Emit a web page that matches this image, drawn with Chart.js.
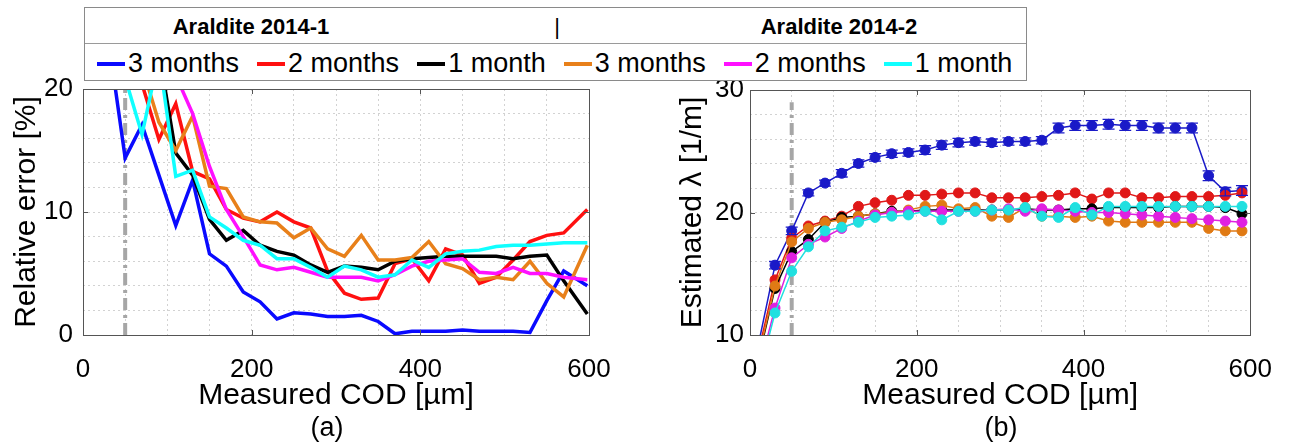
<!DOCTYPE html>
<html>
<head>
<meta charset="utf-8">
<script src="https://cdn.jsdelivr.net/npm/chart.js@4.4.0/dist/chart.umd.min.js"></script>
<style>
  body { margin: 0; background: #fff; width: 1291px; height: 446px; overflow: hidden; position: relative;
         font-family: "Liberation Sans", Arial, Helvetica, sans-serif; }
  #wrapA { position: absolute; left: 0; top: 0; width: 640px; height: 446px; }
  #wrapB { position: absolute; left: 640px; top: 0; width: 651px; height: 446px; }
  .cap { position: absolute; top: 412px; font-size: 27px; transform: translateX(-50%); color: #000; }
  #legend { position: absolute; left: 84px; top: 7px; width: 941px; height: 72px; border: 1px solid #8a8a8a;
            background: #fff; z-index: 2; }
  #legend .head { position: absolute; left: 0; right: 0; top: 0; height: 35px; border-bottom: 1px solid #9a9a9a; }
  #legend .head span { position: absolute; top: 6px; font-size: 22px; font-weight: bold; transform: translateX(-50%); }
  #legend .row { position: absolute; left: 12px; top: 40px; display: flex; align-items: center; gap: 18px; }
  #legend .item { display: flex; align-items: center; font-size: 27px; }
  #legend .item i { display: inline-block; width: 28px; height: 4px; margin-right: 3px; }
</style>
</head>
<body>
<div id="legend">
  <div class="head" id="legendHead"></div>
  <div class="row" id="legendRow"></div>
</div>
<div id="wrapA"><canvas id="chartA" width="640" height="446"></canvas></div>
<div id="wrapB"><canvas id="chartB" width="651" height="446"></canvas></div>
<div class="cap" style="left:327px">(a)</div>
<div class="cap" style="left:1001px">(b)</div>

<script>
// measured COD positions [µm]
const codLeft = [10, 30, 50, 70, 90, 110, 130, 150, 170, 190, 210, 230, 250, 270, 290, 310, 330, 350, 370, 390,
                 410, 430, 450, 470, 490, 510, 530, 550, 570, 598];
const codRight = [10, 30, 50, 70, 90, 110, 130, 150, 170, 190, 210, 230, 250, 270, 290, 310, 330, 350, 370, 390,
                  410, 430, 450, 470, 490, 510, 530, 550, 570, 590];

const groupNames = ['Araldite 2014-1', 'Araldite 2014-2'];
const seriesNames = ['3 months', '2 months', '1 month', '3 months', '2 months', '1 month'];

// (a) relative error [%]
const err14_1_3m = [32, 24.1, 14.4, 17.1, 13.0, 8.9, 12.6, 6.6, 5.6, 3.5, 2.7, 1.3, 1.8, 1.7, 1.5, 1.5, 1.6, 1.1, 0.1, 0.3,
                    0.3, 0.3, 0.4, 0.3, 0.3, 0.3, 0.2, 2.8, 5.2, 4.0];
const err14_1_2m = [40, 32, 25, 20.4, 15.9, 18.8, 13.3, 12.7, 10.2, 9.5, 9.2, 10.0, 9.2, 8.7, 5.2, 3.4, 2.9, 3.0, 5.8, 6.2,
                    4.4, 7.0, 6.5, 4.2, 4.7, 6.1, 7.6, 8.1, 8.3, 10.2];
const err14_1_1m = [45, 38, 32, 27, 23, 14.8, 13.0, 9.4, 7.7, 8.5, 7.3, 6.8, 6.5, 5.7, 5.1, 5.6, 5.5, 5.3, 6.0, 6.2,
                    6.3, 6.4, 6.4, 6.4, 6.4, 6.2, 6.4, 6.5, 4.4, 1.7];
const err14_2_3m = [35, 30, 26, 21.8, 17.3, 15.0, 17.8, 12.1, 11.9, 9.6, 9.2, 9.1, 7.9, 8.7, 7.0, 6.4, 8.1, 6.1, 6.1, 6.3,
                    7.6, 5.8, 5.4, 4.5, 4.7, 4.5, 6.0, 4.2, 3.1, 7.3];
const err14_2_2m = [42, 38, 34, 30, 26, 21.1, 18.0, 13.7, 10.2, 8.0, 5.7, 5.3, 5.5, 5.1, 4.7, 4.7, 4.7, 4.4, 4.9, 5.6,
                    6.0, 6.1, 6.2, 5.1, 5.0, 5.5, 5.0, 5.0, 4.7, 4.5];
const err14_2_1m = [35, 28, 20.9, 16.3, 22.7, 12.9, 13.4, 9.6, 8.7, 7.7, 7.3, 6.2, 6.2, 5.5, 4.7, 5.6, 5.3, 4.7, 4.9, 6.1,
                    5.5, 6.6, 6.8, 6.9, 7.2, 7.3, 7.3, 7.4, 7.5, 7.5];

// (b) estimated lambda [1/m]
const lam14_1_3m = [9.2, 15.7, 18.5, 21.6, 22.4, 23.2, 24.0, 24.5, 24.8, 24.9, 25.1, 25.5, 25.7, 25.8, 25.7, 25.8, 25.8, 25.9, 26.9, 27.1,
                    27.1, 27.2, 27.1, 27.1, 26.9, 26.9, 26.9, 23.0, 21.7, 21.8];
const lam14_1_2m = [8.6, 14.5, 17.9, 18.9, 19.3, 19.7, 20.5, 20.8, 21.0, 21.4, 21.4, 21.5, 21.6, 21.6, 21.2, 21.2, 21.2, 21.3, 21.4, 21.6,
                    21.1, 21.6, 21.6, 21.2, 21.2, 21.3, 21.3, 21.3, 21.4, 21.6];
const lam14_1_1m = [8.0, 13.8, 16.8, 17.8, 19.2, 19.6, 19.7, 19.9, 20.1, 20.1, 20.2, 20.2, 20.2, 20.2, 20.2, 20.2, 20.3, 20.2, 20.2, 20.3,
                    20.3, 20.4, 20.4, 20.4, 20.4, 20.5, 20.5, 20.5, 20.4, 19.9];
const lam14_2_3m = [8.2, 14.0, 17.6, 18.7, 19.2, 19.4, 19.7, 19.9, 20.0, 20.2, 20.5, 20.6, 20.3, 20.4, 19.7, 19.6, 20.4, 19.7, 19.7, 19.6,
                    19.7, 19.3, 19.2, 19.2, 19.2, 19.2, 19.2, 18.7, 18.5, 18.5];
const lam14_2_2m = [7.0, 12.2, 16.3, 17.4, 18.0, 18.7, 19.3, 19.8, 20.0, 20.1, 20.1, 20.1, 20.1, 20.1, 20.2, 20.3, 20.1, 20.3, 20.2, 20.1,
                    20.0, 20.0, 19.9, 19.8, 19.7, 19.6, 19.5, 19.4, 19.3, 19.2];
const lam14_2_1m = [6.5, 11.8, 15.2, 17.2, 18.5, 18.8, 19.2, 19.6, 19.7, 19.8, 20.1, 19.4, 20.1, 20.1, 20.2, 20.2, 20.4, 19.7, 19.6, 20.4,
                    19.8, 20.5, 20.5, 20.5, 20.5, 20.5, 20.5, 20.5, 20.5, 20.5];
// half-height of the error bars on the 3 months / 2014-1 series
const lam14_1_3m_err = [0.3, 0.3, 0.3, 0.25, 0.25, 0.3, 0.3, 0.3, 0.3, 0.3, 0.35, 0.35, 0.35, 0.3, 0.3, 0.3, 0.3, 0.3, 0.4, 0.4,
                        0.4, 0.4, 0.4, 0.4, 0.4, 0.4, 0.4, 0.4, 0.35, 0.4];

// vertical dash-dot marker at COD = 50 µm
const markerCod = 50;
const markerErrRange = [0, 20];
const markerLamRange = [10, 29];

const lineColors = ['#0a0aff', '#ff1010', '#000000', '#e8801a', '#ff10ff', '#10ffff'];
const markColors = ['#1a1ac8', '#e01818', '#000000', '#e07a14', '#e020e0', '#20e0e0'];

Chart.defaults.font.family = '"Liberation Sans", Arial, Helvetica, sans-serif';
Chart.defaults.color = '#000';

// legend (html, spans both panels)
const head = document.getElementById('legendHead');
[[groupNames[0], 166], ['|', 472], [groupNames[1], 754]].forEach(([t, x]) => {
  const s = document.createElement('span');
  s.textContent = t;
  s.style.left = x + 'px';
  if (t === '|') s.style.fontWeight = 'normal';
  head.appendChild(s);
});
const row = document.getElementById('legendRow');
seriesNames.forEach((n, i) => {
  const d = document.createElement('div');
  d.className = 'item';
  d.innerHTML = `<i style="background:${lineColors[i]}"></i>${n}`;
  row.appendChild(d);
});

const toXY = (xs, ys) => xs.map((x, i) => ({x: x, y: ys[i]}));

const boxPlugin = {
  id: 'box',
  afterDatasetsDraw(chart) {
    const {ctx, chartArea: a, scales: {y}} = chart;
    ctx.save();
    ctx.beginPath();
    ctx.rect(a.left, a.top, a.right - a.left, a.bottom - a.top);
    ctx.clip();
    chart.data.datasets.forEach((ds, di) => {
      if (!ds.errors) return;
      const meta = chart.getDatasetMeta(di);
      ctx.strokeStyle = ds.borderColor;
      ctx.lineWidth = 1.3;
      meta.data.forEach((pt, i) => {
        const v = ds.data[i].y, e = ds.errors[i];
        const y1 = y.getPixelForValue(v - e), y2 = y.getPixelForValue(v + e);
        ctx.beginPath();
        ctx.moveTo(pt.x, y1); ctx.lineTo(pt.x, y2);
        ctx.moveTo(pt.x - 6, y1); ctx.lineTo(pt.x + 6, y1);
        ctx.moveTo(pt.x - 6, y2); ctx.lineTo(pt.x + 6, y2);
        ctx.stroke();
      });
    });
    ctx.restore();
  },
  afterDraw(chart) {
    const {ctx, chartArea: a, scales: {x, y}} = chart;
    ctx.save();
    ctx.strokeStyle = '#555';
    ctx.lineWidth = 1;
    ctx.strokeRect(Math.round(a.left) + 0.5, Math.round(a.top) + 0.5,
                   Math.round(a.right - a.left), Math.round(a.bottom - a.top));
    ctx.beginPath();
    x.ticks.forEach(t => {
      if (t.value % 200 !== 0) return;
      const px = Math.round(x.getPixelForValue(t.value)) + 0.5;
      ctx.moveTo(px, a.bottom); ctx.lineTo(px, a.bottom - 5);
      ctx.moveTo(px, a.top); ctx.lineTo(px, a.top + 5);
    });
    y.ticks.forEach(t => {
      if (t.value % 10 !== 0) return;
      const py = Math.round(y.getPixelForValue(t.value)) + 0.5;
      ctx.moveTo(a.left, py); ctx.lineTo(a.left + 5, py);
      ctx.moveTo(a.right, py); ctx.lineTo(a.right - 5, py);
    });
    ctx.stroke();
    ctx.restore();
  }
};

function gridOpts() {
  return {
    drawTicks: false,
    color: '#d2d2d2',
    lineWidth: 1
  };
}

function xScale(height) {
  return {
    type: 'linear', min: 0, max: 600,
    afterFit: s => { s.height = height; },
    ticks: { stepSize: 50, autoSkip: false, maxRotation: 0, padding: 19, font: {size: 26},
             callback: v => (v % 200 === 0 ? v : '') },
    grid: gridOpts(),
    border: { display: false, dash: [2, 3] },
    title: { display: true, text: 'Measured COD [µm]', font: {size: 30}, padding: {top: 0, bottom: 32} }
  };
}

function yScale(min, max, width, tickPad, title, titlePad) {
  return {
    type: 'linear', min: min, max: max,
    afterFit: s => { s.width = width; },
    ticks: { stepSize: 2, autoSkip: false, padding: tickPad, font: {size: 26},
             callback: v => (v % 10 === 0 ? v : '') },
    grid: gridOpts(),
    border: { display: false, dash: [2, 3] },
    title: { display: true, text: title, font: {size: 30}, padding: {top: titlePad, bottom: 0} }
  };
}

const errSeries = [err14_1_3m, err14_1_2m, err14_1_1m, err14_2_3m, err14_2_2m, err14_2_1m];
const lamSeries = [lam14_1_3m, lam14_1_2m, lam14_1_1m, lam14_2_3m, lam14_2_2m, lam14_2_1m];

new Chart(document.getElementById('chartA'), {
  type: 'line',
  data: {
    datasets: [{
      data: toXY([markerCod, markerCod], markerErrRange),
      borderColor: '#a6a6a6', borderWidth: 4, borderDash: [12, 5, 3, 5],
      pointRadius: 0, order: 10
    }].concat(errSeries.map((s, i) => ({
      label: seriesNames[i],
      data: toXY(codLeft, s),
      borderColor: lineColors[i],
      borderWidth: 3.5,
      pointRadius: 0,
      tension: 0,
      order: 6 - i
    })))
  },
  options: {
    responsive: false, animation: false, devicePixelRatio: 1,
    layout: { padding: { top: 89, right: 51, left: 0, bottom: 0 } },
    plugins: { legend: { display: false }, tooltip: { enabled: false } },
    scales: {
      x: xScale(111),
      y: yScale(0, 20, 83, 10, 'Relative error [%]', 9)
    }
  },
  plugins: [boxPlugin]
});

new Chart(document.getElementById('chartB'), {
  type: 'line',
  data: {
    datasets: [{
      data: toXY([markerCod, markerCod], markerLamRange),
      borderColor: '#a6a6a6', borderWidth: 4, borderDash: [12, 5, 3, 5],
      pointRadius: 0, order: 10
    }].concat(lamSeries.map((s, i) => ({
      label: seriesNames[i],
      data: toXY(codRight, s),
      errors: i === 0 ? lam14_1_3m_err : null,
      borderColor: markColors[i],
      borderWidth: 1.5,
      pointRadius: 5,
      pointBackgroundColor: markColors[i],
      pointBorderColor: i === 2 ? '#000' : markColors[i],
      pointBorderWidth: 1,
      tension: 0,
      order: 6 - i
    })))
  },
  options: {
    responsive: false, animation: false, devicePixelRatio: 1,
    layout: { padding: { top: 90, right: 35, left: 0, bottom: 0 } },
    plugins: { legend: { display: false }, tooltip: { enabled: false } },
    scales: {
      x: xScale(111),
      y: yScale(10, 30, 110, 6, 'Estimated λ [1/m]', 35)
    }
  },
  plugins: [boxPlugin]
});
</script>
</body>
</html>
